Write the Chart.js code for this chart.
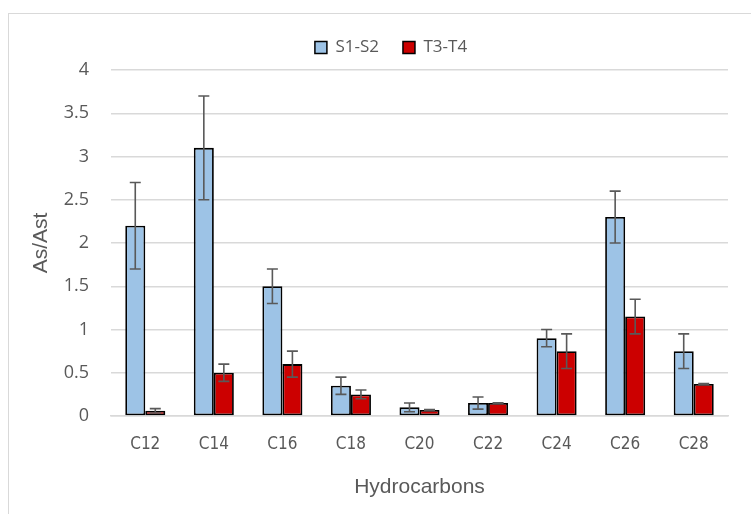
<!DOCTYPE html>
<html>
<head>
<meta charset="utf-8">
<script src="https://cdn.jsdelivr.net/npm/chart.js@4.4.1/dist/chart.umd.min.js"></script>
<style>
  html, body { margin: 0; padding: 0; background: #fff; overflow: hidden; width: 751px; height: 514px; }
  #frame { position: absolute; left: 8px; top: 13px; width: 800px; height: 600px; border: 1.5px solid #d9d9d9; box-sizing: border-box; }
  #wrap { position: absolute; left: 0; top: 0; width: 782px; height: 514px; }
</style>
</head>
<body>
<div id="frame"></div>
<div id="wrap"><canvas id="c" width="782" height="514"></canvas></div>
<script>
const categories = ['C12', 'C14', 'C16', 'C18', 'C20', 'C22', 'C24', 'C26', 'C28'];
const seriesNames = ['S1-S2', 'T3-T4'];
const s1s2 = [2.2, 3.1, 1.5, 0.35, 0.1, 0.15, 0.9, 2.3, 0.75];
const s1s2Err = [0.5, 0.6, 0.2, 0.1, 0.05, 0.07, 0.1, 0.3, 0.2];
const t3t4 = [0.06, 0.5, 0.6, 0.25, 0.07, 0.15, 0.75, 1.15, 0.37];
const t3t4Err = [0.025, 0.1, 0.15, 0.05, 0.004, 0.004, 0.2, 0.2, 0.004];
const yTicks = [0, 0.5, 1, 1.5, 2, 2.5, 3, 3.5, 4];
const yTickLabels = ['0', '0.5', '1', '1.5', '2', '2.5', '3', '3.5', '4'];

const errorBarPlugin = {
  id: 'errorBars',
  afterDatasetsDraw(chart) {
    const ctx = chart.ctx;
    const yScale = chart.scales.y;
    chart.data.datasets.forEach((ds, di) => {
      const meta = chart.getDatasetMeta(di);
      meta.data.forEach((bar, i) => {
        const v = ds.data[i];
        const e = ds.errors[i];
        const yTop = yScale.getPixelForValue(v + e);
        const yBot = yScale.getPixelForValue(v - e);
        const x = bar.x;
        ctx.save();
        ctx.strokeStyle = '#595959';
        ctx.lineWidth = 1.6;
        ctx.beginPath();
        ctx.moveTo(x, yTop); ctx.lineTo(x, yBot);
        ctx.moveTo(x - 5.5, yTop); ctx.lineTo(x + 5.5, yTop);
        ctx.moveTo(x - 5.5, yBot); ctx.lineTo(x + 5.5, yBot);
        ctx.stroke();
        ctx.restore();
      });
    });
  }
};

const textColor = '#595959';
new Chart(document.getElementById('c'), {
  type: 'bar',
  data: {
    labels: categories,
    datasets: [
      { label: seriesNames[0], data: s1s2, errors: s1s2Err, backgroundColor: '#9dc3e6', borderColor: '#000', borderWidth: 1.8, borderSkipped: false, categoryPercentage: 0.584, barPercentage: 1 },
      { label: seriesNames[1], data: t3t4, errors: t3t4Err, backgroundColor: '#cc0000', borderColor: '#000', borderWidth: 1.8, borderSkipped: false, categoryPercentage: 0.584, barPercentage: 1 }
    ]
  },
  options: {
    responsive: false,
    animation: false,
    layout: { padding: { top: 15, left: 0, right: 0, bottom: 0 } },
    plugins: {
      legend: {
        position: 'top',
        labels: {
          boxWidth: 12, boxHeight: 12, padding: 24,
          color: textColor,
          font: { family: 'Open Sans', size: 17 },
          generateLabels(chart) {
            return chart.data.datasets.map((ds, i) => ({
              text: ds.label, fillStyle: ds.backgroundColor, strokeStyle: '#000', lineWidth: 1.5,
              fontColor: textColor, datasetIndex: i, hidden: false
            }));
          }
        }
      },
      tooltip: { enabled: false }
    },
    scales: {
      x: {
        grid: { display: false, drawTicks: false },
        border: { color: '#d9d9d9', width: 1.5 },
        ticks: { color: textColor, padding: 18, font: { family: "'DejaVu Sans Condensed', 'Roboto Condensed', 'Open Sans'", size: 17 } },
        title: { display: true, text: 'Hydrocarbons', color: textColor, font: { family: 'Liberation Sans', size: 21 }, padding: { top: 8, bottom: 14 } },
        afterFit(s) { s.height = 98; }
      },
      xt: {
        type: 'category', position: 'top', display: true,
        grid: { display: false, drawTicks: false }, border: { display: false },
        ticks: { display: false },
        afterFit(s) { s.height = 4; }
      },
      y: {
        min: 0, max: 4,
        afterBuildTicks(s) { s.ticks = yTicks.map(v => ({ value: v })); },
        grid: { color: '#d9d9d9', lineWidth: 1.5, drawTicks: false },
        border: { display: false },
        ticks: { color: textColor, padding: 22, font: { family: 'Open Sans', size: 18 },
          callback: (v) => yTickLabels[yTicks.indexOf(v)] },
        title: { display: true, text: 'As/Ast', color: textColor, font: { family: 'Liberation Sans', size: 21 }, padding: { top: 29, bottom: 0 } },
        afterFit(s) { s.width = 111; }
      },
      yr: {
        position: 'right', display: true,
        grid: { display: false, drawTicks: false }, border: { display: false },
        ticks: { display: false },
        afterFit(s) { s.width = 54; }
      }
    }
  },
  plugins: [errorBarPlugin]
});
</script>
</body>
</html>
